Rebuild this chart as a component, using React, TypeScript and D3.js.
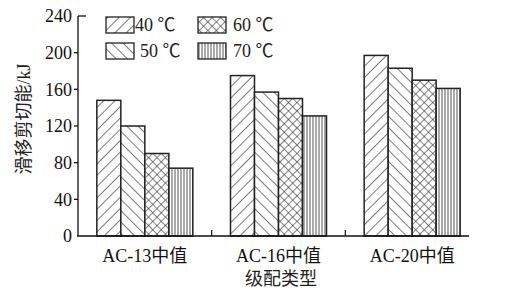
import React, { useEffect, useRef } from 'react';
import * as d3 from 'd3';

const categories = ['AC-13中值', 'AC-16中值', 'AC-20中值'];
const seriesNames = ['40 ℃', '50 ℃', '60 ℃', '70 ℃'];
const values40 = [148, 175, 197];
const values50 = [120, 157, 183];
const values60 = [90, 150, 170];
const values70 = [74, 131, 161];
const yTicks = [0, 40, 80, 120, 160, 200, 240];

const patternIds = ['hatch40', 'hatch50', 'hatch60', 'hatch70'];
const serif = "'Liberation Serif', 'Times New Roman', 'Noto Sans CJK SC', serif";

const App = () => {
  const svgRef = useRef<SVGSVGElement>(null);

  useEffect(() => {
    const svg = d3.select(svgRef.current);
    svg.selectAll('*').remove();

    const left = 78;
    const top = 16;
    const bottom = 236;
    const axisRight = 469;

    const x0 = d3.scaleBand().domain(categories).range([left, 479]).padding(0);
    const x1 = d3.scaleBand().domain(seriesNames).range([0, 96]).padding(0);
    const y = d3.scaleLinear().domain([0, 240]).range([bottom, top]);

    // hatch patterns
    const defs = svg.append('defs');
    const stroke = '#333';
    const p40 = defs.append('pattern').attr('id', 'hatch40').attr('patternUnits', 'userSpaceOnUse')
      .attr('width', 8).attr('height', 8).attr('patternTransform', 'rotate(45)');
    p40.append('rect').attr('width', 8).attr('height', 8).attr('fill', '#fff');
    p40.append('line').attr('x1', 0).attr('y1', 0).attr('x2', 0).attr('y2', 8).attr('stroke', stroke).attr('stroke-width', 1.3);

    const p50 = defs.append('pattern').attr('id', 'hatch50').attr('patternUnits', 'userSpaceOnUse')
      .attr('width', 8).attr('height', 8).attr('patternTransform', 'rotate(-45)');
    p50.append('rect').attr('width', 8).attr('height', 8).attr('fill', '#fff');
    p50.append('line').attr('x1', 0).attr('y1', 0).attr('x2', 0).attr('y2', 8).attr('stroke', stroke).attr('stroke-width', 1.3);

    const p60 = defs.append('pattern').attr('id', 'hatch60').attr('patternUnits', 'userSpaceOnUse')
      .attr('width', 6).attr('height', 6).attr('patternTransform', 'rotate(45)');
    p60.append('rect').attr('width', 6).attr('height', 6).attr('fill', '#fff');
    p60.append('line').attr('x1', 0).attr('y1', 0).attr('x2', 0).attr('y2', 6).attr('stroke', stroke).attr('stroke-width', 1.2);
    p60.append('line').attr('x1', 0).attr('y1', 0).attr('x2', 6).attr('y2', 0).attr('stroke', stroke).attr('stroke-width', 1.2);

    const p70 = defs.append('pattern').attr('id', 'hatch70').attr('patternUnits', 'userSpaceOnUse')
      .attr('width', 3).attr('height', 3);
    p70.append('rect').attr('width', 3).attr('height', 3).attr('fill', '#fff');
    p70.append('line').attr('x1', 1).attr('y1', 0).attr('x2', 1).attr('y2', 3).attr('stroke', '#555').attr('stroke-width', 1);

    const allValues = [values40, values50, values60, values70];

    // bars
    allValues.forEach((vals, si) => {
      svg.append('g')
        .selectAll('rect')
        .data(vals)
        .enter()
        .append('rect')
        .attr('x', (d, i) => (x0(categories[i]) as number) + x0.bandwidth() / 2 - 48 + (x1(seriesNames[si]) as number))
        .attr('y', d => y(d))
        .attr('width', x1.bandwidth())
        .attr('height', d => bottom - y(d))
        .attr('fill', `url(#${patternIds[si]})`)
        .attr('stroke', '#222')
        .attr('stroke-width', 1.5);
    });

    // y axis
    svg.append('line').attr('x1', left).attr('x2', left).attr('y1', top).attr('y2', bottom)
      .attr('stroke', '#111').attr('stroke-width', 1.3);
    yTicks.forEach(t => {
      if (t === 240) {
        svg.append('line').attr('x1', left).attr('x2', left + 8).attr('y1', y(t)).attr('y2', y(t))
          .attr('stroke', '#111').attr('stroke-width', 1.3);
      } else if (t > 0) {
        svg.append('line').attr('x1', left - 4).attr('x2', left).attr('y1', y(t)).attr('y2', y(t))
          .attr('stroke', '#111').attr('stroke-width', 1.3);
      }
      svg.append('text').attr('x', 72).attr('y', y(t)).attr('dy', '0.35em')
        .attr('text-anchor', 'end').style('font-family', serif).style('font-size', '18px')
        .attr('fill', '#111').text(t);
    });

    // x axis
    svg.append('line').attr('x1', left - 1).attr('x2', axisRight).attr('y1', bottom).attr('y2', bottom)
      .attr('stroke', '#111').attr('stroke-width', 1.5);
    categories.slice(1).forEach(c => {
      const xx = x0(c) as number;
      svg.append('line').attr('x1', xx).attr('x2', xx).attr('y1', bottom).attr('y2', bottom - 6)
        .attr('stroke', '#111').attr('stroke-width', 1.2);
    });
    svg.append('g').selectAll('text').data(categories).enter().append('text')
      .attr('x', d => (x0(d) as number) + x0.bandwidth() / 2)
      .attr('y', 262)
      .attr('text-anchor', 'middle')
      .style('font-family', serif).style('font-size', '18px').attr('fill', '#111')
      .text(d => d);

    // axis titles
    svg.append('text').attr('x', 281).attr('y', 285).attr('text-anchor', 'middle')
      .style('font-family', serif).style('font-size', '18px').attr('fill', '#222').text('级配类型');
    svg.append('text').attr('transform', 'translate(30,119) rotate(-90)').attr('text-anchor', 'middle')
      .style('font-family', serif).style('font-size', '18px').attr('fill', '#222').text('滑移剪切能/kJ');

    // legend
    const legendPos = [
      { bx: 106, by: 17, tx: 135 },
      { bx: 106, by: 43, tx: 140 },
      { bx: 198, by: 17, tx: 233 },
      { bx: 198, by: 43, tx: 233 },
    ];
    seriesNames.forEach((s, i) => {
      const p = legendPos[i];
      svg.append('rect').attr('x', p.bx).attr('y', p.by).attr('width', 28).attr('height', 16)
        .attr('fill', `url(#${patternIds[i]})`).attr('stroke', '#222').attr('stroke-width', 1.3);
      svg.append('text').attr('x', p.tx).attr('y', p.by + 8).attr('dy', '0.35em')
        .style('font-family', serif).style('font-size', '18px').attr('fill', '#222').text(s);
    });
  }, []);

  return (
    <div style={{ position: 'absolute', left: 0, top: 0 }}>
      <svg ref={svgRef} width={509} height={300} style={{ display: 'block', background: '#fff' }} />
    </div>
  );
};

export default App;
